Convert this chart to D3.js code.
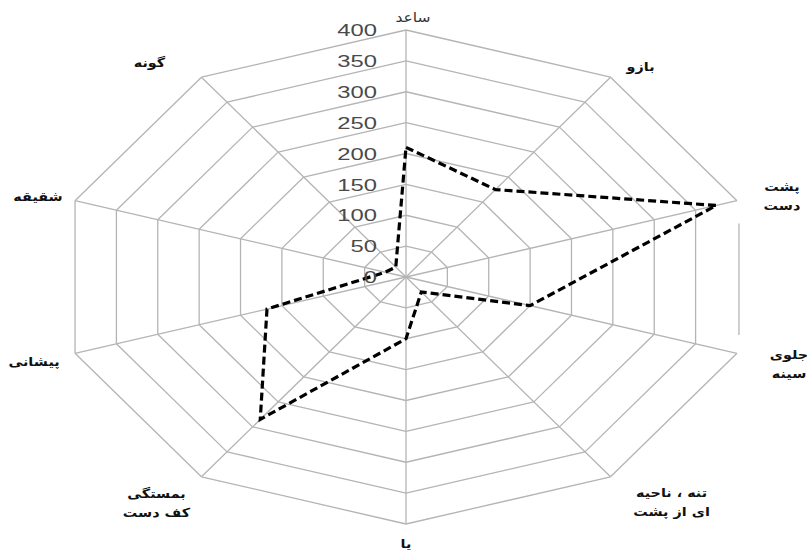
<!DOCTYPE html>
<html><head><meta charset="utf-8">
<script src="https://cdnjs.cloudflare.com/ajax/libs/d3/7.8.5/d3.min.js"></script>
<style>body{margin:0;background:#fff}svg{display:block}</style>
</head><body><svg id="c" width="807" height="550"></svg>
<script>
const categories = ["ساعد","بازو","پشت\nدست","جلوی\nسینه","تنه ، ناحیه\nای از پشت","پا","بمستگی\nکف دست","پیشانی","شقیقه","گونه"];
const values = [210, 175, 375, 150, 30, 100, 285, 168, 25, 20];
const tickValues = [0, 50, 100, 150, 200, 250, 300, 350, 400];

const svg = d3.select("#c");
const cx = 406, cy = 277;
const rx = d3.scaleLinear().domain([0, 400]).range([0, 348]);
const ry = d3.scaleLinear().domain([0, 400]).range([0, 247]);
const n = categories.length;
const ang = d3.scaleLinear().domain([0, n]).range([0, 2 * Math.PI]);
const pt = (i, v) => [cx + rx(v) * Math.sin(ang(i)), cy - ry(v) * Math.cos(ang(i))];

const g = svg.append("g");
const gridColor = "#b4b4b4";

// rings
tickValues.filter(t => t > 0).forEach(t => {
  for (let i = 0; i < n; i++) {
    const a = pt(i, t), b = pt((i + 1) % n, t);
    let p0 = a, p1 = b;
    if (t === 400 && i === 2) {
      // partially drawn outer edge in the original
      p0 = [a[0] + (b[0] - a[0]) * 0.15 + 2, a[1] + (b[1] - a[1]) * 0.15];
      p1 = [a[0] + (b[0] - a[0]) * 0.88 + 2, a[1] + (b[1] - a[1]) * 0.88];
    }
    g.append("line").attr("x1", p0[0]).attr("y1", p0[1]).attr("x2", p1[0]).attr("y2", p1[1])
      .attr("stroke", gridColor).attr("stroke-width", 1.3);
  }
});
// spokes
d3.range(n).forEach(i => {
  const p = pt(i, 400);
  g.append("line").attr("x1", cx).attr("y1", cy).attr("x2", p[0]).attr("y2", p[1])
    .attr("stroke", gridColor).attr("stroke-width", 1.3);
});

// data line
const line = d3.line().curve(d3.curveLinearClosed);
g.append("path").attr("d", line(values.map((v, i) => pt(i, v))))
  .attr("fill", "none").attr("stroke", "#000").attr("stroke-width", 3.2)
  .attr("stroke-dasharray", "8,4");

// tick labels
tickValues.forEach(t => {
  const y = cy - ry(t);
  g.append("text").attr("transform", `translate(377,${y}) scale(1.4,1)`)
    .attr("text-anchor", "end").attr("dominant-baseline", "central")
    .attr("font-family", "Liberation Sans, Arial, sans-serif").attr("font-size", 17)
    .attr("fill", "#4a4a4a").text(t);
});

// category labels
const labelOffsets = [[7,-13],[30,-11],[45,-14],[52,1],[61,16],[0,19],[-45,17],[-41,8],[-37,-4],[-52,-15]];
categories.forEach((c, i) => {
  const p = pt(i, 400);
  const lines = c.split("\n");
  const t = g.append("text")
    .attr("transform", `translate(${p[0] + labelOffsets[i][0]},${p[1] + labelOffsets[i][1]}) scale(1.15,1)`)
    .attr("text-anchor", "middle")
    .attr("font-family", "DejaVu Sans, sans-serif")
    .attr("font-size", i === 0 ? 13.5 : 12.5)
    .attr("font-weight", i === 0 ? "normal" : "bold")
    .attr("fill", i === 0 ? "#333" : "#111");
  lines.forEach((l, k) => {
    t.append("tspan").attr("x", 0)
      .attr("y", k * 19)
      .attr("dominant-baseline", "central").text(l);
  });
});
</script></body></html>
